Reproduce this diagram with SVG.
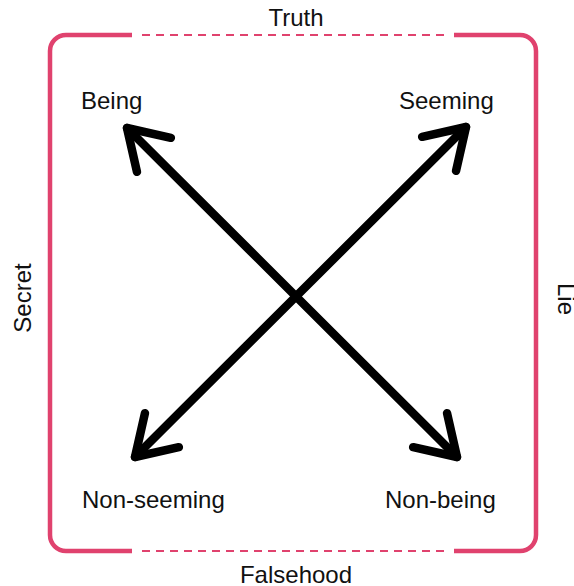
<svg xmlns="http://www.w3.org/2000/svg" width="574" height="586" viewBox="0 0 574 586">
<style>
.lbl{font-family:"Liberation Sans",Arial,sans-serif;font-size:24px;fill:#111}
.frame{fill:none;stroke:#e0426e;stroke-width:4.5;stroke-linecap:butt}
.dash{fill:none;stroke:#e0426e;stroke-width:2;stroke-dasharray:8 6}
.arrow{fill:none;stroke:#000;stroke-width:8.5;stroke-linecap:round}
</style>
<defs>
<marker id="ah" markerUnits="userSpaceOnUse" markerWidth="60" markerHeight="60" viewBox="-50 -30 60 60" refX="0" refY="0" orient="auto-start-reverse" overflow="visible">
<path d="M-38,-24 L0,0 L-38,24" fill="none" stroke="#000" stroke-width="8.5" stroke-linecap="round" stroke-linejoin="round"/>
</marker>
</defs>
<rect width="574" height="586" fill="#fff"/>
<g id="frame">
<path class="frame" d="M132,35 H66 A16,16 0 0 0 50,51 V535 A16,16 0 0 0 66,551 H132"/>
<path class="frame" d="M454,35 H520 A16,16 0 0 1 536,51 V535 A16,16 0 0 1 520,551 H454"/>
<path class="dash" d="M142,35 H446"/>
<path class="dash" d="M142,551 H446"/>
</g>
<g id="connectors">
<line class="arrow" x1="127" y1="128" x2="457" y2="457" marker-start="url(#ah)" marker-end="url(#ah)"/>
<line class="arrow" x1="466" y1="127" x2="135" y2="457" marker-start="url(#ah)" marker-end="url(#ah)"/>
</g>
<g id="truth"><text class="lbl" x="296" y="26" text-anchor="middle">Truth</text></g>
<g id="falsehood"><text class="lbl" x="296" y="583" text-anchor="middle">Falsehood</text></g>
<g id="secret"><text class="lbl" transform="translate(31,298) rotate(-90)" text-anchor="middle">Secret</text></g>
<g id="lie"><text class="lbl" transform="translate(558,299) rotate(90)" text-anchor="middle">Lie</text></g>
<g id="being"><text class="lbl" x="81" y="109">Being</text></g>
<g id="seeming"><text class="lbl" x="399" y="109">Seeming</text></g>
<g id="non-seeming"><text class="lbl" x="82" y="508">Non-seeming</text></g>
<g id="non-being"><text class="lbl" x="385" y="508">Non-being</text></g>
</svg>
